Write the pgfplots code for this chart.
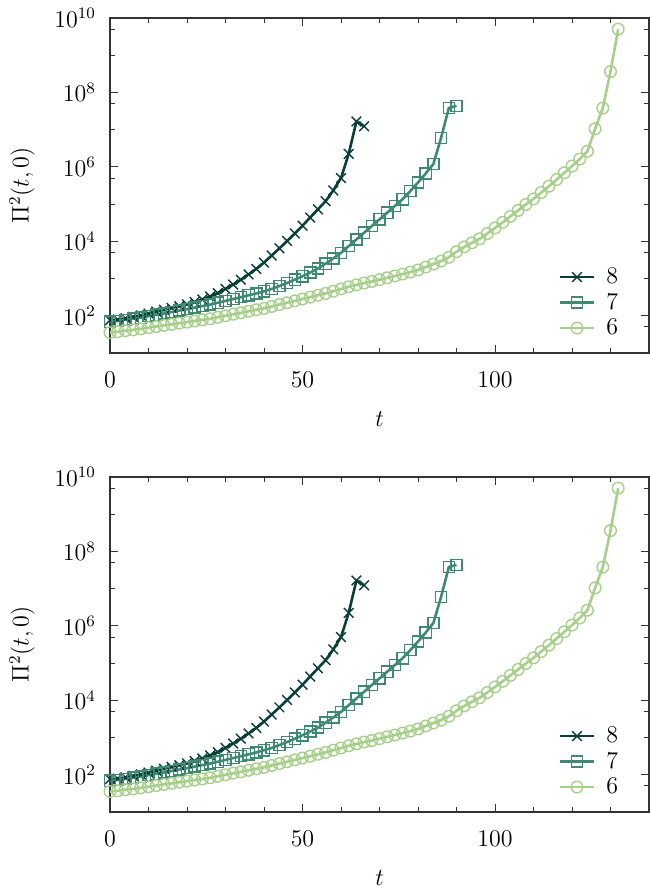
\documentclass[border=0pt]{standalone}
\usepackage{pgfplots}
\usepackage{pgfplotstable}
\pgfplotsset{compat=1.18}
\definecolor{cdark}{HTML}{0B3D3A}
\definecolor{cmed}{HTML}{3E8A70}
\definecolor{clight}{HTML}{A6CF8A}

\pgfplotstableread{
t v
0 7.59e1
2 7.94e1
4 8.51e1
6 9.33e1
8 1.02e2
10 1.15e2
12 1.29e2
14 1.45e2
16 1.62e2
18 1.82e2
20 2.04e2
22 2.34e2
24 2.75e2
26 3.31e2
28 4.07e2
30 5.25e2
32 6.92e2
34 9.33e2
36 1.29e3
38 1.82e3
40 2.69e3
42 4.17e3
44 6.46e3
46 1.02e4
48 1.62e4
50 2.63e4
52 4.37e4
54 7.24e4
56 1.20e5
58 2.34e5
60 5.01e5
62 2.24e6
64 1.66e7
66 1.23e7
}\seriesA

\pgfplotstableread{
t v
0 6.92e1
2 7.24e1
4 7.76e1
6 8.32e1
8 8.91e1
10 9.77e1
12 1.07e2
14 1.15e2
16 1.26e2
18 1.38e2
20 1.51e2
22 1.66e2
24 1.82e2
26 2.00e2
28 2.24e2
30 2.51e2
32 2.82e2
34 3.16e2
36 3.55e2
38 3.98e2
40 4.57e2
42 5.25e2
44 6.31e2
46 7.59e2
48 9.33e2
50 1.15e3
52 1.45e3
54 1.86e3
56 2.51e3
58 3.47e3
60 4.90e3
62 7.41e3
64 1.12e4
66 1.70e4
68 2.57e4
70 3.89e4
72 5.89e4
74 8.91e4
76 1.35e5
78 2.24e5
80 3.80e5
82 6.61e5
84 1.20e6
86 6.03e6
88 3.80e7
90 4.37e7
}\seriesB

\pgfplotstableread{
t v
0 3.55e1
2 3.72e1
4 3.98e1
6 4.17e1
8 4.47e1
10 4.79e1
12 5.13e1
14 5.50e1
16 5.89e1
18 6.31e1
20 6.76e1
22 7.24e1
24 7.76e1
26 8.32e1
28 9.12e1
30 1.00e2
32 1.10e2
34 1.20e2
36 1.32e2
38 1.45e2
40 1.58e2
42 1.78e2
44 2.00e2
46 2.24e2
48 2.51e2
50 2.82e2
52 3.16e2
54 3.55e2
56 3.98e2
58 4.57e2
60 5.25e2
62 6.03e2
64 6.76e2
66 7.59e2
68 8.32e2
70 9.33e2
72 1.05e3
74 1.17e3
76 1.32e3
78 1.48e3
80 1.70e3
82 2.04e3
84 2.45e3
86 2.95e3
88 3.72e3
90 5.25e3
92 7.08e3
94 9.12e3
96 1.17e4
98 1.62e4
100 2.29e4
102 3.24e4
104 4.68e4
106 6.76e4
108 9.77e4
110 1.38e5
112 2.04e5
114 3.02e5
116 4.57e5
118 6.92e5
120 1.05e6
122 1.62e6
124 2.63e6
126 1.05e7
128 3.80e7
130 3.63e8
132 5.01e9
}\seriesC

\pgfplotsset{
  panel/.style={
    width=269.5pt, height=167.5pt, scale only axis,
    anchor=south west,
    xmin=0, xmax=140, ymin=1e1, ymax=1e10,
    xtick={0,50,100}, minor xtick={10,20,30,40,60,70,80,90,110,120,130},
    ytick={1e2,1e4,1e6,1e8,1e10},
    minor ytick={1e1,1e3,1e5,1e7,1e9,5e1,5e3,5e5,5e7,5e9},
    tick align=inside,
    major tick length=4pt, minor tick length=2.5pt,
    every tick/.style={black!80, line width=0.5pt},
    axis line style={black!80, line width=0.6pt},
    ticklabel style={font=\large},
    xticklabel style={yshift=-6pt},
    yticklabel style={xshift=-3.5pt},
    xlabel={$t$}, ylabel={$\Pi^2(t,0)$},
    label style={font=\large},
    xlabel style={at={(axis description cs:0.5,-0.197)}, anchor=center},
    ylabel style={at={(axis description cs:-0.163,0.5)}, anchor=center},
    legend style={at={(0.962,0.28)}, anchor=north east, draw=none, fill=none, font=\large, row sep=-0.8pt},
    legend cell align=left,
  },
  s8/.style={color=cdark, line width=1.3pt, mark=x, mark size=3.4pt, mark options={line width=0.7pt}},
  s7/.style={color=cmed, line width=1.3pt, mark=square, mark size=2.8pt, mark options={line width=0.7pt}},
  s6/.style={color=clight, line width=1.3pt, mark=o, mark size=2.9pt, mark options={line width=0.7pt}},
}

\begin{document}
\begin{tikzpicture}
\begin{semilogyaxis}[panel, at={(55pt,267.5pt)}]
\addplot[s8] table[x=t,y=v] {\seriesA};
\addplot[s7] table[x=t,y=v] {\seriesB};
\addplot[s6] table[x=t,y=v] {\seriesC};
\legend{\hspace{3.5pt}8,\hspace{3.5pt}7,\hspace{3.5pt}6}
\end{semilogyaxis}
\begin{semilogyaxis}[panel, at={(55pt,38pt)}]
\addplot[s8] table[x=t,y=v] {\seriesA};
\addplot[s7] table[x=t,y=v] {\seriesB};
\addplot[s6] table[x=t,y=v] {\seriesC};
\legend{\hspace{3.5pt}8,\hspace{3.5pt}7,\hspace{3.5pt}6}
\end{semilogyaxis}
\pgfresetboundingbox
\path[use as bounding box] (0,0) rectangle (324.5pt,444pt);
\end{tikzpicture}
\end{document}
